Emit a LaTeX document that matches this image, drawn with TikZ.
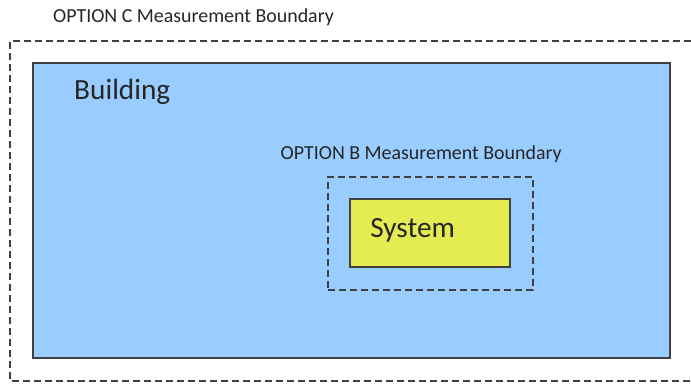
\documentclass[tikz,border=0pt]{standalone}
\usepackage{fontspec}
\setmainfont{Carlito}
\usepackage{xcolor}
\usepackage{tikz}
\usetikzlibrary{positioning}
\definecolor{edge}{RGB}{64,64,64}
\definecolor{ink}{RGB}{38,38,38}
\definecolor{sky}{RGB}{153,204,255}
\definecolor{lime}{RGB}{228,236,82}
\newcommand{\lblfont}{\fontsize{17}{20}\selectfont}
\newcommand{\namefont}{\fontsize{25}{30}\selectfont}

\begin{document}
\begin{tikzpicture}[
  box/.style={draw=edge, line width=1.6pt, inner sep=0pt},
  bound/.style={draw=edge, line width=1.5pt, dash pattern=on 0.21cm off 0.12cm},
  bndlab/.style={font=\lblfont, text=ink, inner sep=0pt},
  boxlab/.style={font=\namefont, text=ink, inner sep=0pt, anchor=west}]
\useasboundingbox (0,0) rectangle (20.73,11.49);
% option C boundary runs off the right edge
\coordinate (ctop) at (20.73,10.26);
\coordinate (cbot) at (20.73,0.06);
\draw[bound] (ctop) -- (0.3,10.26) -- (0.3,0.06) -- (cbot);
\node[bndlab] (optc) at (5.805,10.98) {OPTION C Measurement Boundary};
% building
\node[box, fill=sky, minimum width=19.11cm, minimum height=8.85cm] (building) at (10.545,5.175) {};
\node[boxlab] (bname) at (2.22,8.73) {Building};
% option B boundary and system
\node[bound, minimum width=6.15cm, minimum height=3.39cm, inner sep=0pt] (optb) at (12.915,4.485) {};
\node[bndlab, above=0.4cm of optb.north, xshift=-0.28cm] (optbname) {OPTION B Measurement Boundary};
\node[box, fill=lime, minimum width=4.8cm, minimum height=2.04cm] (system) at (12.9,4.5) {};
\node[boxlab, right=0.63cm of system.west, yshift=0.09cm] (sname) {System};
\end{tikzpicture}
\end{document}
